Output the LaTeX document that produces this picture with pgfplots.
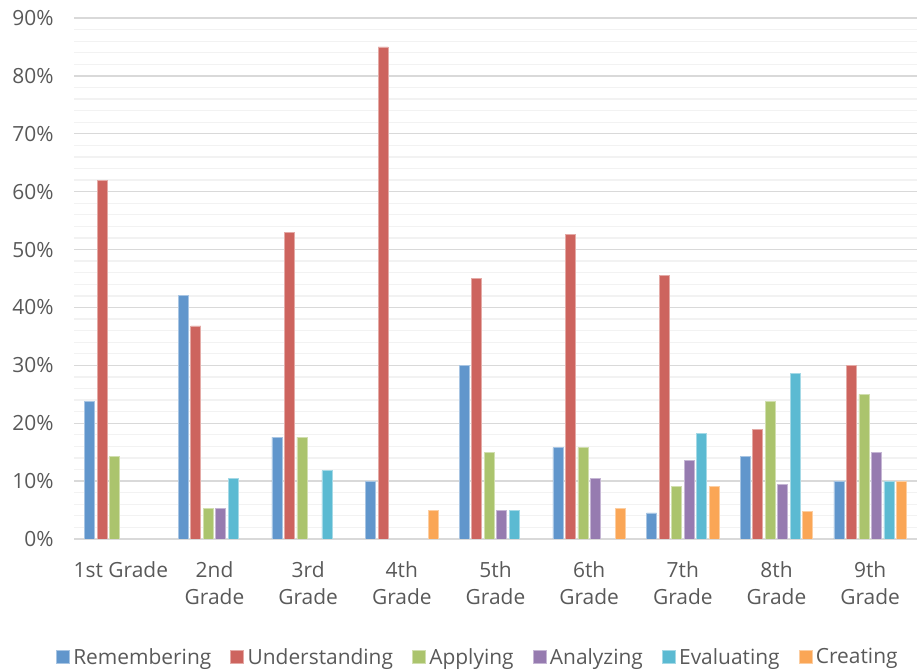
\documentclass[border=0pt]{standalone}
\usepackage{fontspec}
\setmainfont{Open Sans}
\usepackage{pgfplots}
\pgfplotsset{compat=1.18}
\definecolor{cA}{HTML}{6196CC}
\definecolor{cB}{HTML}{CD645E}
\definecolor{cC}{HTML}{ABC46D}
\definecolor{cD}{HTML}{967BB0}
\definecolor{cE}{HTML}{5BBAD2}
\definecolor{cF}{HTML}{FAA656}
\definecolor{gridmaj}{HTML}{D9D9D9}
\definecolor{gridmin}{HTML}{F2F2F2}
\definecolor{txt}{HTML}{595959}
\begin{document}
\begin{tikzpicture}
\useasboundingbox (0,0) rectangle (919bp,670bp);
\begin{axis}[
  at={(74bp,131bp)}, anchor=south west,
  scale only axis, width=843bp, height=521bp,
  ymin=0, ymax=90, xmin=-0.5, xmax=8.5,
  ybar=2.5bp, bar width=10bp,
  ytick={0,10,...,90}, minor ytick={0,2,...,90},
  ymajorgrids, yminorgrids,
  major grid style={draw=gridmaj, line width=1.3bp},
  minor grid style={draw=gridmin, line width=1.3bp},
  axis x line*=bottom, axis y line*=left,
  y axis line style={draw=none},
  x axis line style={draw=gridmaj, line width=1.5bp, -},
  tick style={draw=none}, major tick length=0pt, minor tick length=0pt,
  xtick={0,...,8},
  xticklabels={1st Grade,{2nd\\Grade},{3rd\\Grade},{4th\\Grade},{5th\\Grade},{6th\\Grade},{7th\\Grade},{8th\\Grade},{9th\\Grade}},
  xticklabel style={align=center, yshift=-19bp},
  yticklabel={\pgfmathprintnumber{\tick}\%},
  yticklabel style={xshift=-17bp},
  /pgf/number format/assume math mode=true,
  ticklabel style={font=\fontsize{21}{27}\selectfont, text=txt},
  legend columns=6,
  legend style={draw=none, fill=none, at={(0.479,-0.2265)}, anchor=center,
    font=\fontsize{21}{24}\selectfont, text=txt,
    /tikz/every odd column/.append style={column sep=1.5bp},
    /tikz/every even column/.append style={column sep=17bp},
    inner sep=0pt},
  legend image code/.code={\fill[#1] (0bp,-6.5bp) rectangle (13bp,6.5bp);},
  every axis plot/.append style={line width=0.8bp},
]
\addplot[fill=cA, draw=cA!55!white] coordinates {(0,23.8) (1,42.1) (2,17.6) (3,10) (4,30) (5,15.8) (6,4.5) (7,14.3) (8,10)};
\addplot[fill=cB, draw=cB!55!white] coordinates {(0,61.9) (1,36.8) (2,52.9) (3,85) (4,45) (5,52.6) (6,45.5) (7,19.0) (8,30)};
\addplot[fill=cC, draw=cC!55!white] coordinates {(0,14.3) (1,5.3) (2,17.6) (4,15) (5,15.8) (6,9.1) (7,23.8) (8,25)};
\addplot[fill=cD, draw=cD!55!white] coordinates {(1,5.3) (4,5) (5,10.5) (6,13.6) (7,9.5) (8,15)};
\addplot[fill=cE, draw=cE!55!white] coordinates {(1,10.5) (2,11.8) (4,5) (6,18.2) (7,28.6) (8,10)};
\addplot[fill=cF, draw=cF!55!white] coordinates {(3,5) (5,5.3) (6,9.1) (7,4.8) (8,10)};
\legend{Remembering,Understanding,Applying,Analyzing,Evaluating,Creating}
\end{axis}
\end{tikzpicture}
\end{document}
